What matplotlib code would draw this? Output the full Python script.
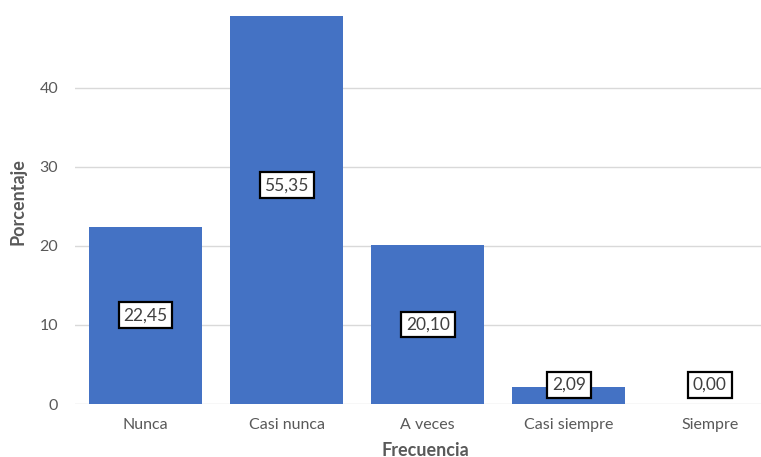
import matplotlib
matplotlib.use("Agg")
import matplotlib.pyplot as plt

categories = ["Nunca", "Casi nunca", "A veces", "Casi siempre", "Siempre"]
values = [22.45, 55.35, 20.10, 2.09, 0.00]
yticks = [0, 10, 20, 30, 40]

plt.rcParams['font.family'] = ['Lato', 'DejaVu Sans']

fig = plt.figure(figsize=(7.61, 4.57), dpi=100)
ax = fig.add_axes([75 / 761, 53 / 457, 1 - 75 / 761, (404 - 16) / 457])

x = list(range(len(categories)))
ax.bar(x, values, width=0.8, color="#4472C4", zorder=2)

ax.set_xlim(-0.5, 4.362)
ax.set_ylim(0, 49.1)
ax.set_yticks(yticks)
ax.set_xticks(x)
ax.set_xticklabels(categories)
ax.grid(axis="y", color="#d9d9d9", linewidth=1.0, zorder=0)
ax.tick_params(axis="both", length=0, labelsize=11.5, labelcolor="#595959")
ax.tick_params(axis="y", pad=12)
ax.tick_params(axis="x", pad=10)
for s in ax.spines.values():
    s.set_visible(False)

for xi, v in zip(x, values):
    ypos = max(v / 2, 2.4)
    ax.text(xi, ypos, f"{v:.2f}".replace(".", ","), ha="center", va="center",
            fontsize=12.5, color="#404040", zorder=4,
            bbox=dict(boxstyle="square,pad=0.28", facecolor="white",
                      edgecolor="black", linewidth=1.6))

fig.text(18 / 761, 1 - 202 / 457, "Porcentaje", rotation=90, ha="center", va="center",
         fontsize=13, fontweight="bold", color="#595959")
fig.text(425 / 761, 1 - 450 / 457, "Frecuencia", ha="center", va="center",
         fontsize=13, fontweight="bold", color="#595959")

fig.savefig("out.png", dpi=100)
